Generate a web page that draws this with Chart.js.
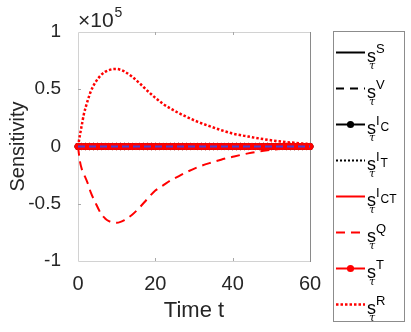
<!DOCTYPE html>
<html>
<head>
<title>Sensitivity</title>
<script src="https://cdn.jsdelivr.net/npm/chart.js@4.4.1/dist/chart.umd.min.js"></script>
<style>
body { margin: 0; background: #fff; }
#wrap { position: relative; width: 411px; height: 332px; }
</style>
</head>
<body>
<div id="wrap"><canvas id="myChart" width="411" height="332"></canvas></div>
<script>
// solver time points for the series that stay on zero
const tMarks = [0,1,2,3,4,5,6,7,8,9,10,11,12,13,14,15,16,17,18,19,20,21,22,23,24,25,26,27,28,29,30,
                31,32,33,34,35,36,37,38,39,40,41,42,43,44,45,46,47,48,49,50,51,52,53,54,55,56,57,58,59,60];
const zeroVals = [0,0,0,0,0,0,0,0,0,0,0,0,0,0,0,0,0,0,0,0,0,0,0,0,0,0,0,0,0,0,0,
                  0,0,0,0,0,0,0,0,0,0,0,0,0,0,0,0,0,0,0,0,0,0,0,0,0,0,0,0,0,0];

// time points
const tCurve = [0,0.5,1,1.5,2.5,3.3,4.5,6,7,8,9,10,11,12,14,16,18,20,22,24,26,28,31,34,37,40,44,48,52,56,60];
// values in units of 10^5
const sQ = [0,-0.13,-0.20,-0.24,-0.32,-0.40,-0.49,-0.59,-0.628,-0.652,-0.664,-0.666,-0.658,-0.642,-0.596,-0.53,
            -0.455,-0.385,-0.34,-0.295,-0.26,-0.225,-0.18,-0.145,-0.115,-0.09,-0.06,-0.038,-0.022,-0.012,-0.005];
const sR = [0,0.10,0.19,0.28,0.40,0.48,0.56,0.625,0.652,0.667,0.676,0.677,0.67,0.655,0.61,0.55,
            0.485,0.425,0.372,0.33,0.293,0.26,0.215,0.178,0.143,0.113,0.087,0.064,0.045,0.032,0.02];

const xTicks = [0,20,40,60];
const yTicks = [-1,-0.5,0,0.5,1];
const yExponent = '5';

const legendSup = ['S','V','I','I','I','Q','T','R'];
const legendSupSub = ['','','C','T','CT','','',''];

function pts(t, v) {
    return t.map((x, i) => ({x: x, y: v[i]}));
}

const RED = '#ff0000';
const BLACK = '#000000';

// style of each legend entry / dataset, same order as legendSup
const styles = [
    {color: BLACK, dash: [], marker: false, width: 2},
    {color: BLACK, dash: [8,6], marker: false, width: 2},
    {color: BLACK, dash: [], marker: true, width: 2},
    {color: BLACK, dash: [2,2], marker: false, width: 2},
    {color: RED, dash: [], marker: false, width: 2},
    {color: RED, dash: [9,6], marker: false, width: 2},
    {color: RED, dash: [], marker: true, width: 2},
    {color: RED, dash: [2.5,2], marker: false, width: 2.5}
];

const seriesData = [
    pts(tMarks, zeroVals), pts(tMarks, zeroVals), pts(tMarks, zeroVals), pts(tMarks, zeroVals),
    pts(tMarks, zeroVals), pts(tCurve, sQ), pts(tMarks, zeroVals), pts(tCurve, sR)
];

let datasets = styles.map(function(s, i) {
    return {
        data: seriesData[i],
        borderColor: s.color,
        backgroundColor: s.color,
        borderWidth: s.width,
        borderDash: s.dash,
        borderCapStyle: 'butt',
        pointRadius: s.marker ? 3.2 : 0,
        pointBorderWidth: 1,
        pointBorderColor: s.color,
        pointBackgroundColor: s.color,
        cubicInterpolationMode: 'monotone',
        clip: 6,
        order: 20 - i   // later series on top, like the original plot
    };
});
// thin blue dashed trace on top of the zero line
datasets.push({
    data: pts(tMarks, zeroVals),
    borderColor: '#4b3fd2',
    borderWidth: 1.8,
    borderDash: [7,4],
    pointRadius: 0,
    clip: 6,
    order: 0
});

const framePlugin = {
    id: 'frame',
    beforeDatasetsDraw(chart) {
        const ctx = chart.ctx;
        const a = chart.chartArea;
        const xs = chart.scales.x, ys = chart.scales.y;
        ctx.save();
        ctx.lineWidth = 1;
        ctx.strokeStyle = '#d2d2d2';
        ctx.beginPath();
        ctx.moveTo(a.right, a.top + 0.5); ctx.lineTo(a.left + 0.5, a.top + 0.5);
        ctx.lineTo(a.left + 0.5, a.bottom + 0.5); ctx.lineTo(a.right, a.bottom + 0.5);
        ctx.stroke();
        ctx.strokeStyle = '#8a8a8a';
        ctx.beginPath();
        ctx.moveTo(a.right + 0.5, a.top); ctx.lineTo(a.right + 0.5, a.bottom + 1);
        ctx.stroke();
        // small inward ticks
        ctx.strokeStyle = '#a8a8a8';
        ctx.beginPath();
        xTicks.slice(1, -1).forEach(function(v) {
            const px = Math.round(xs.getPixelForValue(v)) + 0.5;
            ctx.moveTo(px, a.bottom); ctx.lineTo(px, a.bottom - 3);
            ctx.moveTo(px, a.top); ctx.lineTo(px, a.top + 3);
        });
        yTicks.slice(1, -1).forEach(function(v) {
            const py = Math.round(ys.getPixelForValue(v)) + 0.5;
            ctx.moveTo(a.left, py); ctx.lineTo(a.left + 3, py);
        });
        ctx.stroke();
        ctx.restore();
    },
    afterDraw(chart) {
        const ctx = chart.ctx;
        const a = chart.chartArea;
        ctx.save();
        ctx.fillStyle = '#262626';
        ctx.textBaseline = 'alphabetic';
        // exponent of the y axis
        ctx.font = '21px "Liberation Sans", Arial, sans-serif';
        ctx.fillText('\u00d710', a.left, 27);
        const w = ctx.measureText('\u00d710').width;
        ctx.font = '14px "Liberation Sans", Arial, sans-serif';
        ctx.fillText(yExponent, a.left + w + 1, 17);

        // legend box
        const bx = 333.5, by = 31.5, bw = 71, bh = 290;
        ctx.fillStyle = '#ffffff';
        ctx.fillRect(bx, by, bw, bh);
        ctx.strokeStyle = '#8c8c8c';
        ctx.lineWidth = 1;
        ctx.strokeRect(bx, by, bw, bh);

        legendSup.forEach(function(sup, i) {
            const s = styles[i];
            const ly = Math.round(51.7 + 36 * i) + 0.5;
            ctx.strokeStyle = s.color;
            ctx.lineWidth = s.width;
            ctx.lineCap = 'butt';
            ctx.setLineDash(s.dash);
            ctx.beginPath();
            ctx.moveTo(336, ly); ctx.lineTo(365, ly);
            ctx.stroke();
            ctx.setLineDash([]);
            if (s.marker) {
                ctx.fillStyle = s.color;
                ctx.beginPath();
                ctx.arc(350.5, ly, 3.6, 0, Math.PI * 2);
                ctx.fill();
            }
            ctx.fillStyle = '#000000';
            ctx.font = '18px "Liberation Sans", Arial, sans-serif';
            ctx.fillText('s', 367, ly + 9);
            const sw = ctx.measureText('s').width;
            ctx.font = '13px "Liberation Sans", Arial, sans-serif';
            ctx.fillText(sup, 367 + sw, ly);
            const supw = ctx.measureText(sup).width;
            if (legendSupSub[i]) {
                ctx.font = '12px "Liberation Sans", Arial, sans-serif';
                ctx.fillText(legendSupSub[i], 367 + sw + supw + 1, ly + 6);
            }
            ctx.font = 'italic 11px "DejaVu Serif", serif';
            ctx.fillText('\u03c4', 369, ly + 16);
        });
        ctx.restore();
    }
};

Chart.defaults.font.family = '"Liberation Sans", Arial, sans-serif';
Chart.defaults.color = '#262626';

const ctx = document.getElementById('myChart');
const myChart = new Chart(ctx, {
    type: 'line',
    data: { datasets: datasets },
    options: {
        responsive: false,
        animation: false,
        events: [],
        layout: { padding: { left: 0, right: 101, top: 32, bottom: 0 } },
        plugins: {
            legend: { display: false },
            tooltip: { enabled: false }
        },
        scales: {
            x: {
                type: 'linear',
                min: 0,
                max: 60,
                grid: { display: false },
                border: { display: false },
                afterBuildTicks: function(s) { s.ticks = xTicks.map(v => ({value: v})); },
                afterFit: function(s) { s.height = 71; },
                ticks: { padding: 3, font: { size: 20 }, color: '#262626', maxRotation: 0 },
                title: { display: true, text: 'Time t', font: { size: 22 }, color: '#262626',
                         padding: { top: 0, bottom: 8 } }
            },
            y: {
                type: 'linear',
                min: -1,
                max: 1,
                grid: { display: false },
                border: { display: false },
                afterBuildTicks: function(s) { s.ticks = yTicks.map(v => ({value: v})); },
                afterFit: function(s) { s.width = 78; },
                ticks: { padding: 9, font: { size: 19 }, color: '#262626',
                         callback: function(v) { return String(v); } },
                title: { display: true, text: 'Sensitivity', font: { size: 20 }, color: '#262626',
                         padding: { top: 6, bottom: 0 } }
            }
        }
    },
    plugins: [framePlugin]
});
</script>
</body>
</html>
